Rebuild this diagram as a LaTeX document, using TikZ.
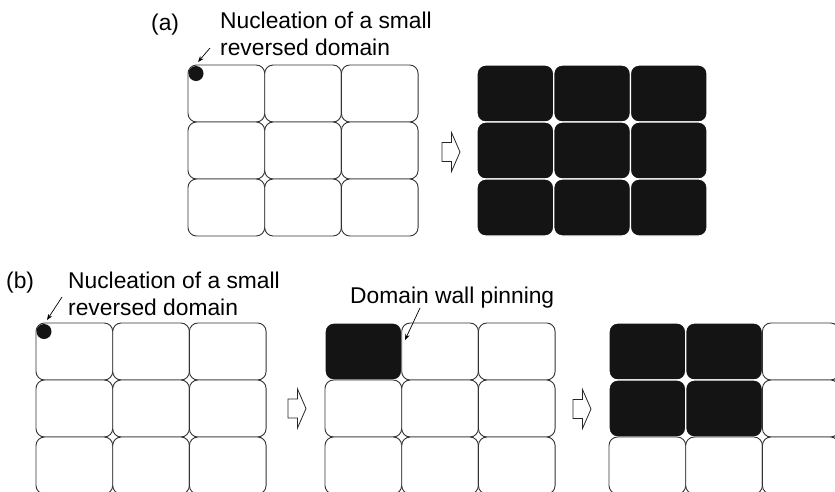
\documentclass[tikz,border=0pt]{standalone}
\usepackage{fontspec}
\setmainfont{Liberation Sans}
\usetikzlibrary{arrows.meta}

\tikzset{
  cell/.style={draw=black!80, line width=0.9pt, rounded corners=8.5pt, fill=white,
    minimum width=76.7pt, minimum height=57pt, inner sep=0pt, outer sep=0pt},
  darkcell/.style={cell, draw=white, fill=black!92, line width=1.3pt},
  lbl/.style={anchor=base west, inner sep=0pt, font=\fontsize{22.8}{27}\selectfont},
  pointer/.style={-{Stealth[length=6pt,width=4.5pt]}, line width=0.7pt},
  seed/.style={circle, fill=black!92, minimum size=15pt, inner sep=0pt},
  blockarrow/.style={draw=black!85, line width=0.8pt, fill=white, line join=miter},
}

% 3x3 grid of domains; the cells with row <= #4 and column <= #5 are reversed (dark)
\newcommand\domaingrid[5]{%
  \foreach \r in {1,2,3}{%
    \foreach \c in {1,2,3}{%
      \def\cellsty{cell}%
      \ifnum\r>#4\relax\else\ifnum\c>#5\relax\else\def\cellsty{darkcell}\fi\fi
      \node[\cellsty] (#1-\r-\c) at ({#2+(\c-0.5)*76.7},{#3+(\r-0.5)*57}) {};
    }%
  }%
}

% hollow block arrow: left edge x, vertical centre y
\newcommand\blockarrow[2]{%
  \draw[blockarrow] (#1,#2-9.5) -- ++(9.5,0) -- ++(0,-10) -- ++(8.5,19.5)
    -- ++(-8.5,19.5) -- ++(0,-10) -- ++(-9.5,0) -- cycle;
}

\begin{document}
\begin{tikzpicture}[x=1pt, y=-1pt]
  \path[use as bounding box, clip] (0,0) rectangle (835,491);

  % ---------- (a) ----------
  \node[lbl] (labA) at (151,30) {(a)};
  \node[lbl] (nucA1) at (220,28) {Nucleation of a small};
  \node[lbl] (nucA2) at (220,55) {reversed domain};

  \domaingrid{ga}{188}{65}{0}{0}
  \node[seed] (seedA) at (196,73.5) {};
  \coordinate (tailA) at (210,48);
  \coordinate (tipA) at (198,62);
  \draw[pointer] (tailA) -- (tipA);

  \blockarrow{442}{152}

  \domaingrid{gb}{477}{65}{3}{3}

  % ---------- (b) ----------
  \node[lbl] (labB) at (6,288) {(b)};
  \node[lbl] (nucB1) at (68,288) {Nucleation of a small};
  \node[lbl] (nucB2) at (68,315) {reversed domain};

  \domaingrid{gc}{36}{323}{0}{0}
  \node[seed] (seedB) at (44,331.5) {};
  \coordinate (tailB) at (62,297);
  \coordinate (tipB) at (47,320);
  \draw[pointer] (tailB) -- (tipB);

  \blockarrow{288}{408.5}

  \node[lbl] (pin) at (350,303) {Domain wall pinning};
  \domaingrid{gd}{325}{323}{1}{1}
  \coordinate (tailP) at (420,308);
  \coordinate (tipP) at (405,340);
  \draw[pointer] (tailP) -- (tipP);

  \blockarrow{573}{409}

  \domaingrid{ge}{609}{323}{2}{2}
\end{tikzpicture}
\end{document}
